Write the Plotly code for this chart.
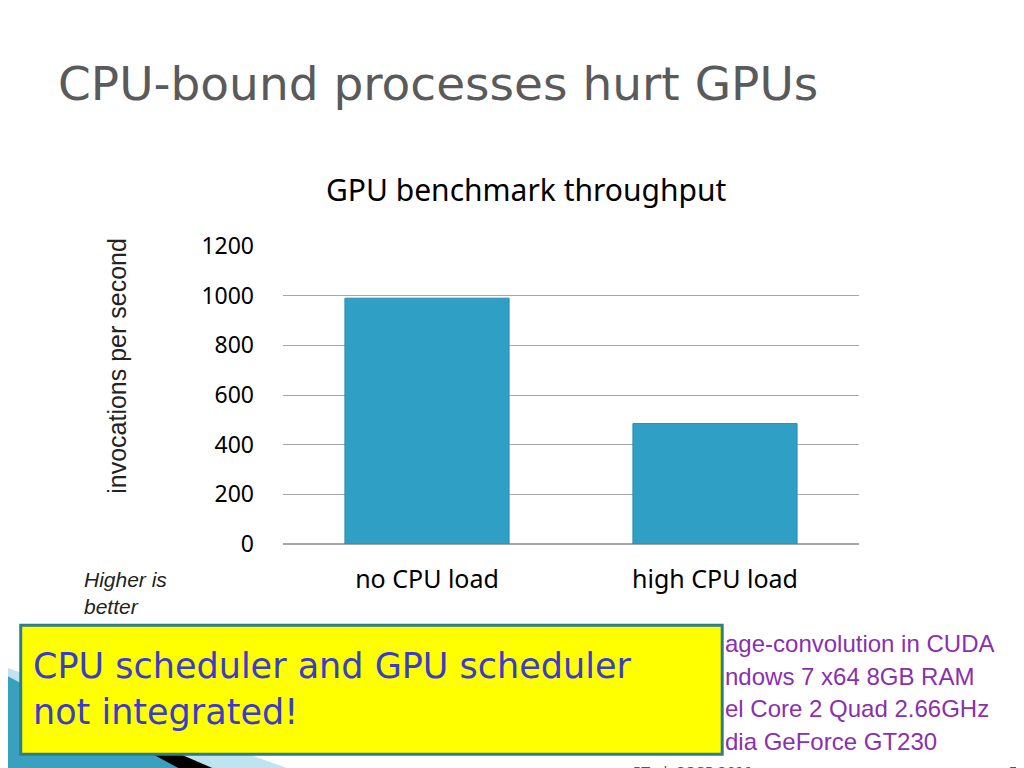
import plotly.graph_objects as go

categories = ["no CPU load", "high CPU load"]
values = [990, 485]
yticks = [0, 200, 400, 600, 800, 1000, 1200]
specs = ["age-convolution in CUDA", "ndows 7 x64 8GB RAM", "el Core 2 Quad 2.66GHz", "dia GeForce GT230"]

OFF = 8
L, R, T, B = 283 - OFF, 843 - OFF, 246 - OFF, 528 - OFF
def px(x): return (x - OFF - L) / (R - L)
def py(y): return (B - (y - OFF)) / (B - T)

fig = go.Figure(go.Bar(x=categories, y=values, marker=dict(color="#2f9fc6", line=dict(color="#2a8fb2", width=1)), width=0.57))

shapes = [
    dict(type="path", xref="paper", yref="paper", layer="above",
         path=f"M {px(0)},{py(640)} L {px(390)},{py(776)} L {px(0)},{py(776)} Z",
         fillcolor="#bfe3ef", line=dict(width=0)),
    dict(type="path", xref="paper", yref="paper", layer="above",
         path=f"M {px(0)},{py(650)} L {px(300)},{py(776)} L {px(0)},{py(776)} Z",
         fillcolor="#000000", line=dict(width=0)),
    dict(type="path", xref="paper", yref="paper", layer="above",
         path=f"M {px(0)},{py(645)} L {px(250)},{py(776)} L {px(0)},{py(776)} Z",
         fillcolor="#3aa0c0", line=dict(width=0)),
    dict(type="rect", xref="paper", yref="paper", layer="above",
         x0=px(28), x1=px(710), y0=py(727), y1=py(605),
         fillcolor="#ffff00", line=dict(color="#2e7d8c", width=3)),
]

ann = [
    dict(text="CPU-bound processes hurt GPUs", x=px(62), y=py(92), xanchor="left", yanchor="middle",
         font=dict(family="DejaVu Sans", size=47, color="#5a5a5a")),
    dict(text="GPU benchmark throughput", x=px(519), y=py(193), xanchor="center", yanchor="middle",
         font=dict(family="Noto Sans", size=30, color="#000")),
    dict(text="invocations per second", x=px(122), y=py(359), textangle=-90, xanchor="center", yanchor="middle",
         font=dict(family="Liberation Sans", size=25, color="#222")),
    dict(text="<i>Higher is<br>better</i>", x=px(88), y=py(574), xanchor="left", yanchor="middle", align="left",
         font=dict(family="Liberation Sans", size=21, color="#222")),
    dict(text="CPU scheduler and GPU scheduler<br>not integrated!", x=px(38), y=py(665), xanchor="left", yanchor="middle",
         align="left", font=dict(family="DejaVu Sans", size=35, color="#3c3ccc")),
    dict(text="PTask SOSP 2011", x=px(682), y=py(744), xanchor="center", yanchor="middle",
         font=dict(family="Liberation Sans Narrow, DejaVu Sans", size=14, color="#555")),
    dict(text="7", x=px(993), y=py(744), xanchor="center", yanchor="middle",
         font=dict(family="DejaVu Sans", size=14, color="#555")),
]
for i, s in enumerate(specs):
    ann.append(dict(text=s, x=px(711), y=py(622 + 31 * i), xanchor="left", yanchor="middle",
                    font=dict(family="Liberation Sans", size=24, color="#8a2fb0")))
for a in ann:
    a.update(xref="paper", yref="paper", showarrow=False)

fig.update_layout(
    width=1024, height=768, margin=dict(l=L, r=1024 - R - 2 * OFF, t=T, b=768 - B - 2 * OFF),
    paper_bgcolor="white", plot_bgcolor="white", showlegend=False,
    shapes=shapes, annotations=ann, bargap=0.43,
    xaxis=dict(tickfont=dict(family="Noto Sans", size=25, color="#000"), ticks="", showline=False,
               ticklabelstandoff=18),
    yaxis=dict(range=[0, 1200], tickvals=yticks, showgrid=True, gridcolor="#a6a6a6", gridwidth=1.3,
               zeroline=True, zerolinecolor="#a6a6a6", tickfont=dict(family="Noto Sans", size=23, color="#000"),
               ticklabelstandoff=28),
)
fig.write_html("out.html")
